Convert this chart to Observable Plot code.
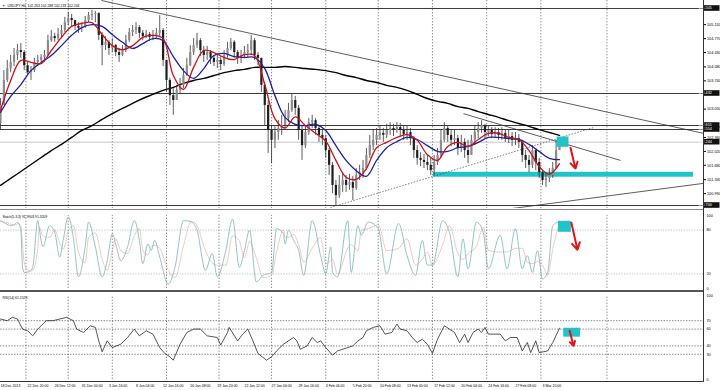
<!DOCTYPE html>
<html><head><meta charset="utf-8">
<script src="https://cdn.jsdelivr.net/npm/d3@7"></script>
<script src="https://cdn.jsdelivr.net/npm/@observablehq/plot@0.6"></script>
<style>
body{margin:0;background:#fff;}
#wrap{position:relative;width:720px;height:390px;overflow:hidden;font-family:"Liberation Sans",Arial,sans-serif;background:#fff;}
#wrap svg{position:absolute;left:0;overflow:visible;}
.deco{position:absolute;}
</style></head><body><div id="wrap"></div>
<script>
// ---------- DATA (H4 bars; candles sampled every 2 bars) ----------
const firstOpen = 102.70;
const candleClose = [103.14,103.75,104.04,104.19,104.36,104.48,104.43,104.11,103.94,103.99,
104.19,104.24,104.31,104.36,104.72,104.82,104.77,104.87,104.97,105.16,
105.26,105.21,105.07,105.02,105.04,105.21,105.33,105.36,105.38,104.85,
104.60,104.68,104.53,104.60,104.43,104.36,104.48,104.72,104.92,104.97,
105.04,104.90,104.82,104.87,104.80,104.85,104.90,104.97,104.24,103.75,
103.38,103.26,103.51,103.63,103.87,104.11,104.43,104.60,104.72,104.48,
104.36,104.43,104.29,104.19,104.24,104.14,104.36,104.53,104.68,104.43,
104.29,104.36,104.43,104.48,104.72,104.36,104.29,103.63,103.14,102.53,
102.29,102.48,102.58,102.65,102.82,103.02,103.26,103.07,102.53,102.16,
102.48,102.72,102.77,102.58,102.41,102.33,102.04,101.68,101.19,100.94,
101.19,101.31,101.19,101.26,101.12,101.43,101.50,101.60,101.92,102.16,
102.29,102.41,102.46,102.41,102.53,102.58,102.53,102.60,102.53,102.43,
102.48,102.33,102.04,101.85,101.80,101.75,101.68,101.55,101.75,101.92,
102.29,102.58,102.41,102.29,102.33,102.09,102.24,102.04,101.92,102.29,
102.48,102.58,102.65,102.48,102.53,102.43,102.48,102.41,102.46,102.33,
102.38,102.29,102.33,102.24,101.92,101.80,101.68,102.04,101.75,101.50,
101.31,101.36,101.43,101.60,102.04,102.244];
const candleHigh = [103.31,103.99,104.24,104.36,104.53,104.63,104.65,104.48,104.19,104.09,
104.29,104.36,104.38,104.48,104.85,104.97,104.90,105.02,105.09,105.29,
105.41,105.36,105.21,105.16,105.16,105.31,105.41,105.46,105.43,105.40,
104.92,104.82,104.72,104.77,104.63,104.53,104.60,104.85,105.02,105.09,
105.16,105.09,104.97,104.97,104.92,104.97,105.02,105.33,105.02,104.24,
103.80,103.55,103.63,103.80,104.04,104.29,104.60,104.77,104.90,104.77,
104.58,104.58,104.48,104.36,104.36,104.33,104.48,104.68,104.77,104.72,
104.48,104.48,104.58,104.63,104.85,104.77,104.43,104.29,103.70,103.26,
102.65,102.65,102.77,102.90,103.02,103.19,103.43,103.36,103.14,102.65,
102.65,102.82,102.90,102.82,102.65,102.53,102.41,102.09,101.75,101.31,
101.43,101.50,101.43,101.46,101.41,101.60,101.68,101.80,102.09,102.41,
102.53,102.58,102.63,102.58,102.68,102.72,102.68,102.72,102.70,102.63,
102.63,102.58,102.38,102.16,101.99,101.94,101.92,101.85,101.92,102.09,
102.53,102.72,102.65,102.53,102.53,102.41,102.41,102.33,102.29,102.41,
102.63,102.72,102.77,102.68,102.65,102.60,102.60,102.58,102.60,102.53,
102.53,102.48,102.48,102.43,102.29,102.04,101.92,102.16,102.09,101.85,
101.55,101.50,101.60,101.75,102.29,102.33];
const candleLow = [102.53,103.14,103.70,103.94,104.09,104.24,104.29,103.99,103.85,103.75,
103.94,104.09,104.19,104.19,104.33,104.68,104.68,104.72,104.77,104.92,
105.09,105.07,104.97,104.90,104.92,105.02,105.16,105.21,105.16,104.72,
104.11,104.48,104.36,104.43,104.33,104.19,104.33,104.43,104.68,104.82,
104.87,104.77,104.72,104.77,104.70,104.72,104.77,104.82,104.09,103.46,
103.14,102.90,103.26,103.41,103.55,103.85,104.09,104.36,104.53,104.33,
104.19,104.24,104.14,104.09,104.04,103.99,104.09,104.29,104.48,104.29,
104.14,104.16,104.29,104.29,104.36,104.24,104.11,103.46,102.65,101.97,
101.72,102.09,102.29,102.41,102.58,102.72,102.97,102.90,102.29,101.80,
102.09,102.41,102.58,102.41,102.24,102.16,101.85,101.43,100.99,100.70,
100.87,101.02,101.02,101.07,100.82,101.07,101.31,101.36,101.55,101.85,
102.04,102.16,102.29,102.24,102.33,102.41,102.38,102.46,102.38,102.29,
102.29,102.16,101.85,101.68,101.65,101.60,101.55,101.43,101.43,101.68,
101.85,102.24,102.24,102.14,102.16,101.92,101.99,101.85,101.72,101.92,
102.16,102.33,102.46,102.33,102.38,102.33,102.36,102.29,102.29,102.24,
102.21,102.14,102.16,102.09,101.75,101.60,101.50,101.60,101.55,101.36,
101.19,101.14,101.26,101.36,101.60,102.04];

// moving averages, one value per day (every 6 H4 bars)
const maRed = [103.02,103.75,104.24,104.19,104.16,104.48,104.80,105.07,105.14,105.16,
104.87,104.60,104.50,104.60,104.80,104.85,104.77,103.87,103.53,104.07,
104.48,104.43,104.31,104.26,104.38,104.36,103.65,102.82,102.59,102.86,
102.65,102.46,102.27,101.80,101.39,101.34,101.60,102.11,102.24,102.36,
102.43,102.29,101.94,101.80,102.14,102.24,102.14,102.31,102.46,102.46,
102.36,102.31,102.04,101.65,101.46,101.72];
const maBlue = [102.97,103.36,103.65,103.99,104.19,104.36,104.60,104.85,105.04,105.11,
105.07,104.87,104.68,104.53,104.65,104.77,104.72,104.33,103.99,103.80,
104.04,104.36,104.41,104.33,104.31,104.31,104.04,103.38,102.85,102.68,
102.65,102.68,102.53,102.16,101.80,101.55,101.41,101.80,102.11,102.26,
102.36,102.31,102.16,102.02,102.02,102.11,102.14,102.24,102.36,102.36,
102.33,102.31,102.19,102.02,101.85,101.82];
const maBlack = [101.19,101.36,101.53,101.70,101.87,102.04,102.19,102.36,102.53,102.65,
102.80,102.94,103.07,103.19,103.31,103.41,103.51,103.58,103.68,103.75,
103.80,103.87,103.94,103.99,104.02,104.07,104.07,104.07,104.09,104.07,
104.04,104.02,103.99,103.94,103.87,103.82,103.75,103.70,103.63,103.58,
103.51,103.41,103.31,103.24,103.19,103.11,103.07,102.99,102.92,102.85,
102.77,102.70,102.63,102.55,102.48,102.41];

// stochastic (5,3,3)
const stochBars = [0,3,6,9,10,12,13,14,17,19,22,23,25,29,32,35,37,40,43,46,50,52,56,60,63,66,68,71,75,79,82,84,87,89,91,94,99,103,108,112,114,116,121,125,128,133,137,141,144,147,151,155,160,163,167,168,170,173,176,179,184,189,192,195,196,199,205,207,211,213,217,223,228,235,240,245,249,252,255,261,265,270,273,276,281,285,288,295,299,304,308,311,314,317,320,323,326,330];
const stochMain = [93,89,86,89,91,80,29,22,23,29,93,80,57,86,77,43,66,98,70,16,57,91,57,16,38,75,61,38,57,93,66,34,61,52,66,43,6,29,93,92,89,80,25,48,16,52,95,29,52,80,9,18,22,82,75,61,80,66,52,18,93,45,20,57,22,16,93,22,86,73,91,82,20,89,45,18,66,32,32,93,77,16,68,27,91,77,27,73,27,82,27,45,22,52,13,22,86,92];
const stochSignal = [92,91,88,87,89,86,60,35,24,25,55,84,72,70,80,62,54,78,86,50,35,70,76,40,25,52,68,52,48,72,82,52,46,57,59,55,25,15,58,90,91,86,52,35,32,32,72,65,42,64,42,15,18,50,80,70,70,74,60,36,55,70,34,38,40,20,55,60,52,80,82,87,52,55,68,32,40,50,32,60,86,48,40,48,58,84,52,50,50,55,55,36,34,37,32,18,54,91];

// RSI (14)
const rsiBars = [0,4,7,10,13,16,19,22,24,27,31,35,39,43,45,49,53,56,58,60,63,66,71,75,79,82,86,90,94,97,100,102,106,110,114,118,122,128,130,134,135,140,143,146,149,152,157,160,163,167,173,175,177,181,184,187,189,192,196,199,205,208,211,214,216,220,224,227,231,234,236,240,243,246,249,252,255,258,262,265,268,271,274,276,279,282,284,286,288,291,295,298,301,305,308,311,313,316,318,323,326,330];
const rsiValues = [72,70,74,72,60,58,52,60,64,70,70,72,74,70,60,56,64,62,46,33,46,38,42,50,60,52,58,54,38,31,27,23,42,56,60,60,52,50,41,56,62,46,54,60,46,31,23,27,34,42,50,46,36,40,50,44,46,38,29,34,38,40,46,50,58,62,64,54,56,66,60,58,50,44,48,42,31,48,64,60,56,44,54,44,56,60,56,62,54,54,54,46,50,50,34,44,32,46,32,34,44,61];

// axes and labels
const timeTickBars = [0,16,32,48,64,80,96,112,128,144,160,176,192,208,224,240,256,272,288,304,320];
const timeLabels = ["18 Dec 2013","22 Dec 20:00","26 Dec 12:00","31 Dec 00:00","3 Jan 16:00","8 Jan 04:00","12 Jan 16:00","16 Jan 08:00","19 Jan 20:00","22 Jan 12:00","27 Jan 00:00","29 Jan 16:00","3 Feb 04:00","5 Feb 20:00","10 Feb 08:00","13 Feb 00:00","17 Feb 12:00","20 Feb 04:00","24 Feb 16:00","27 Feb 08:00","3 Mar 20:00"];
const weekGridBars = [15,40,66,98,129,160,192,223,255,287,319,358];
const priceTicks = [105.110,104.770,104.430,104.080,103.740,103.050,102.360,102.020,101.680,101.330,100.990];
const priceTickLabels = ["105.110","104.770","104.430","104.080","103.740","103.050","102.360","102.020","101.680","101.330","100.990"];
const levelPrices = [105.505,103.432,102.651,102.554,100.700];
const levelLabels = ["105.505","103.432","102.651","102.554","100.700"];
const bidPrice = 102.244, bidLabel = "102.244";
const stochTicks = [100,80,20,0], stochLevels = [80,20];
const rsiTicks = [100,70,60,40,30,0], rsiLevels = [70,60,40,30];
const headerPrice = "USDJPY,H4  102.263 102.288 102.233 102.244";
const headerStoch = "Stoch(5,3,3) 91.9903 91.3209";
const headerRsi = "RSI(14) 61.1523";

// drawn objects (bar index, value)
const lineStartBar = [59.6,273.3,293.4], lineStartPrice = [105.70,102.94,100.58];
const lineEndBar = [415,366,415], lineEndPrice = [102.46,101.80,101.24];
const dotLineBars = [194.8,350], dotLinePrices = [100.65,102.60];
const zoneBars = [255.6,409.1], zonePrices = [101.39,101.51];
const boxPriceBars = [328.6,335.6], boxPrices = [102.12,102.37];
const arrowPriceBars = [336.5,339.4], arrowPrices = [102.11,101.60];
const boxStochBars = [329.4,337], boxStochVals = [77,92];
const arrowStochBars = [337,340.6], arrowStochVals = [90,53];
const boxRsiBars = [332.5,342.4], boxRsiVals = [50.4,61];
const arrowRsiBars = [336,338.3], arrowRsiVals = [58,40];

// ---------- BUILD ----------
const X = {domain:[0,415], axis:null};
const FONT = "Liberation Sans, Arial, sans-serif";
const CYAN = "#1fc3c8", RED = "#e3131b";
const wrap = document.getElementById("wrap");

const candles = candleClose.map((c,j)=>{
  const o = j===0 ? firstOpen : candleClose[j-1];
  return {b:2*j, o, c, h:Math.max(candleHigh[j],o,c), l:Math.min(candleLow[j],o,c), col: c>=o ? "#8c8c8c" : "#1e1e1e"};
});
const ma = arr => arr.map((v,i)=>({b:i*6, v}));
const pLabel = new Map(priceTicks.map((d,i)=>[d,priceTickLabels[i]]));
const tLabel = new Map(timeTickBars.map((d,i)=>[d,timeLabels[i]]));

const priceChart = Plot.plot({
  width:720, height:208, marginLeft:0, marginRight:17, marginTop:0, marginBottom:0,
  x:X, y:{domain:[100.627,105.70]}, color:{type:"identity"},
  style:{background:"transparent", fontFamily:FONT},
  marks:[
    Plot.ruleX(weekGridBars,{stroke:"#444", strokeWidth:0.6, strokeDasharray:"1.4,1.6"}),
    Plot.ruleY(levelPrices,{stroke:"#3a3a3a", strokeWidth:1}),
    Plot.ruleY([bidPrice],{stroke:"#b8b8b8", strokeWidth:0.8}),
    Plot.rect([0],{x1:zoneBars[0], x2:zoneBars[1], y1:zonePrices[0], y2:zonePrices[1], fill:CYAN}),
    Plot.link(lineStartBar,{x1:lineStartBar, y1:lineStartPrice, x2:lineEndBar, y2:lineEndPrice, stroke:"#333", strokeWidth:0.8, clip:true}),
    Plot.link([0],{x1:dotLineBars[0], y1:dotLinePrices[0], x2:dotLineBars[1], y2:dotLinePrices[1], stroke:"#444", strokeWidth:0.7, strokeDasharray:"1.5,1.5", clip:true}),
    Plot.line(ma(maBlack),{x:"b", y:"v", stroke:"#000", strokeWidth:1.4, curve:"catmull-rom", clip:true}),
    Plot.ruleX(candles,{x:"b", y1:"l", y2:"h", stroke:"#333", strokeWidth:0.8}),
    Plot.ruleX(candles,{x:"b", y1:"o", y2:"c", stroke:"col", strokeWidth:2.2}),
    Plot.line(ma(maBlue),{x:"b", y:"v", stroke:"#1f1fa3", strokeWidth:1.3, curve:"catmull-rom", clip:true}),
    Plot.line(ma(maRed),{x:"b", y:"v", stroke:"#c8121c", strokeWidth:1.3, curve:"catmull-rom", clip:true}),
    Plot.rect([0],{x1:boxPriceBars[0], x2:boxPriceBars[1], y1:boxPrices[0], y2:boxPrices[1], fill:CYAN}),
    Plot.arrow([0],{x1:arrowPriceBars[0], y1:arrowPrices[0], x2:arrowPriceBars[1], y2:arrowPrices[1], stroke:RED, strokeWidth:2, headLength:6}),
    Plot.text([headerPrice],{frameAnchor:"top-left", dx:7, dy:4, fontSize:3.4, textAnchor:"start", fill:"#000"}),
    Plot.text(["▼"],{frameAnchor:"top-left", dx:1.5, dy:4, fontSize:3.4, textAnchor:"start", fill:"#555"}),
    Plot.axisY(priceTicks,{anchor:"right", tickSize:2, tickPadding:1.5, fontSize:3.8, label:null, tickFormat:d=>pLabel.get(d)})
  ]
});
priceChart.style.top = "0px";
wrap.appendChild(priceChart);
// boxed value labels on the price axis, placed through the chart's own y scale
{
  const ys = priceChart.scale("y");
  const g = d3.select(priceChart).append("g");
  levelPrices.concat([bidPrice]).forEach((v,i)=>{
    const y = ys.apply(v);
    const txt = i < levelLabels.length ? levelLabels[i] : bidLabel;
    g.append("rect").attr("x",703.5).attr("y",y-2.8).attr("width",16).attr("height",5.6).attr("fill","#111");
    g.append("text").attr("x",705).attr("y",y+1.3).attr("fill","#fff").attr("font-size",3.8).attr("font-family",FONT).text(txt);
  });
}

const sPts = stochBars.map((b,i)=>({b, m:stochMain[i], s:stochSignal[i]}));
const stochChart = Plot.plot({
  width:720, height:84, marginLeft:0, marginRight:17, marginTop:7, marginBottom:4,
  x:X, y:{domain:[0,100]},
  style:{background:"transparent", fontFamily:FONT},
  marks:[
    Plot.ruleX(weekGridBars,{stroke:"#444", strokeWidth:0.6, strokeDasharray:"1.4,1.6", y1:0, y2:100}),
    Plot.ruleY(stochLevels,{stroke:"#999", strokeWidth:0.6, strokeDasharray:"1.2,1.4"}),
    Plot.line(sPts,{x:"b", y:"s", stroke:"#e39a9a", strokeWidth:0.7, strokeDasharray:"0.8,1.2", curve:"monotone-x"}),
    Plot.line(sPts,{x:"b", y:"m", stroke:"#7dbab6", strokeWidth:0.85, curve:"monotone-x"}),
    Plot.rect([0],{x1:boxStochBars[0], x2:boxStochBars[1], y1:boxStochVals[0], y2:boxStochVals[1], fill:CYAN}),
    Plot.arrow([0],{x1:arrowStochBars[0], y1:arrowStochVals[0], x2:arrowStochBars[1], y2:arrowStochVals[1], stroke:RED, strokeWidth:2, headLength:6}),
    Plot.text([headerStoch],{frameAnchor:"top-left", dx:2, dy:0, fontSize:3.4, textAnchor:"start", fill:"#000"}),
    Plot.axisY(stochTicks,{anchor:"right", tickSize:0, tickPadding:3, fontSize:3.8, label:null})
  ]
});
stochChart.style.top = "208px";
wrap.appendChild(stochChart);

const rPts = rsiBars.map((b,i)=>({b, v:rsiValues[i]}));
const rsiChart = Plot.plot({
  width:720, height:98, marginLeft:0, marginRight:17, marginTop:3, marginBottom:11,
  x:X, y:{domain:[0,100]},
  style:{background:"transparent", fontFamily:FONT},
  marks:[
    Plot.ruleX(weekGridBars,{stroke:"#444", strokeWidth:0.6, strokeDasharray:"1.4,1.6", y1:0, y2:100}),
    Plot.ruleY(rsiLevels,{stroke:"#333", strokeWidth:0.6, strokeDasharray:"1.4,1.4"}),
    Plot.line(rPts,{x:"b", y:"v", stroke:"#2a2a2a", strokeWidth:0.8}),
    Plot.rect([0],{x1:boxRsiBars[0], x2:boxRsiBars[1], y1:boxRsiVals[0], y2:boxRsiVals[1], fill:CYAN}),
    Plot.arrow([0],{x1:arrowRsiBars[0], y1:arrowRsiVals[0], x2:arrowRsiBars[1], y2:arrowRsiVals[1], stroke:RED, strokeWidth:2, headLength:5}),
    Plot.text([headerRsi],{frameAnchor:"top-left", dx:2, dy:1.5, fontSize:3.4, textAnchor:"start", fill:"#000"}),
    Plot.text(timeTickBars,{x:d=>d, text:d=>tLabel.get(d), frameAnchor:"bottom", dy:7, fontSize:3.5, textAnchor:"start", fill:"#000"}),
    Plot.axisY(rsiTicks,{anchor:"right", tickSize:0, tickPadding:3, fontSize:3.8, label:null})
  ]
});
rsiChart.style.top = "292px";
wrap.appendChild(rsiChart);

// panel separators / frame
[[0,208.8,703,1.6,"#8a8a8a"],[0,290,703,1.6,"#555"],[0,380.5,703,1,"#333"],[703,0,1,381.5,"#333"]].forEach(([l,t,w,h,c])=>{
  const d=document.createElement("div"); d.className="deco";
  Object.assign(d.style,{left:l+"px",top:t+"px",width:w+"px",height:h+"px",background:c});
  wrap.appendChild(d);
});
</script></body></html>
